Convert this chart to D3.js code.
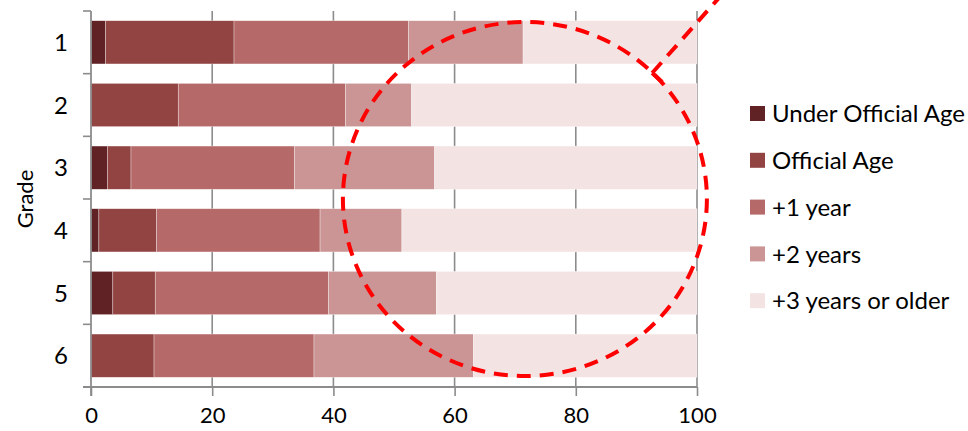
<!DOCTYPE html>
<html>
<head>
<meta charset="utf-8">
<script src="https://cdn.jsdelivr.net/npm/d3@7"></script>
<style>
  html, body { margin: 0; padding: 0; background: #fff; }
  svg { display: block; }
  text { font-family: "Lato", "Open Sans", sans-serif; fill: #000; }
</style>
</head>
<body>
<svg id="chart" width="968" height="431"></svg>
<script>
// Grades shown on the vertical axis
const grades = ["1", "2", "3", "4", "5", "6"];

// Age groups, drawn left to right within each bar
const ageGroups = ["Under Official Age", "Official Age", "+1 year", "+2 years", "+3 years or older"];

// Share of pupils (%) in each age group, one value per grade
const underOfficialAge = [2.4, 0.0, 2.7, 1.3, 3.6, 0.0];
const officialAge      = [21.2, 14.4, 3.9, 9.5, 7.0, 10.4];
const plusOneYear      = [28.8, 27.6, 27.0, 27.0, 28.6, 26.4];
const plusTwoYears     = [18.9, 10.9, 23.1, 13.5, 17.8, 26.3];
const plusThreeOrOlder = [28.7, 47.1, 43.3, 48.7, 43.0, 36.9];

// Value axis ticks
const xTicks = [0, 20, 40, 60, 80, 100];

const colors = ["#612226", "#924442", "#b56a69", "#cc9595", "#f3e3e3"];

const svg = d3.select("#chart");
const margin = { left: 91, right: 271, top: 11, bottom: 44 };
const W = 968, H = 431;

const x = d3.scaleLinear().domain([0, 100]).range([margin.left, W - margin.right]);
const y = d3.scaleBand().domain(grades).range([margin.top, H - margin.bottom]).paddingInner(0.31).paddingOuter(0.155);
const yBand = d3.scaleBand().domain(grades).range([margin.top, H - margin.bottom]);

const rows = grades.map((g, i) => ({
  grade: g,
  "Under Official Age": underOfficialAge[i],
  "Official Age": officialAge[i],
  "+1 year": plusOneYear[i],
  "+2 years": plusTwoYears[i],
  "+3 years or older": plusThreeOrOlder[i]
}));
const series = d3.stack().keys(ageGroups)(rows);
const color = d3.scaleOrdinal().domain(ageGroups).range(colors);

const axisColor = "#8c8c8c";

// vertical gridlines
svg.append("g")
  .selectAll("line")
  .data(xTicks.slice(1))
  .join("line")
  .attr("x1", d => x(d)).attr("x2", d => x(d))
  .attr("y1", margin.top).attr("y2", H - margin.bottom)
  .attr("stroke", axisColor).attr("stroke-width", 1.6);

// stacked bars
svg.append("g")
  .selectAll("g")
  .data(series)
  .join("g")
  .attr("fill", d => color(d.key))
  .selectAll("rect")
  .data(d => d)
  .join("rect")
  .attr("x", d => x(d[0]))
  .attr("width", d => Math.max(0, x(d[1]) - x(d[0])))
  .attr("y", d => y(d.data.grade))
  .attr("height", y.bandwidth())
  .attr("stroke", "rgba(255,255,255,0.55)")
  .attr("stroke-width", 0.6);

// x axis
const xAxis = svg.append("g")
  .attr("transform", `translate(0,${H - margin.bottom})`)
  .call(d3.axisBottom(x).tickValues(xTicks).tickSize(9).tickPadding(11).tickFormat(d3.format("d")));
xAxis.select(".domain").attr("stroke", axisColor).attr("stroke-width", 1.8)
  .attr("d", `M${x(0) - 8},0H${x(100)}`);
xAxis.selectAll(".tick line").attr("stroke", axisColor).attr("stroke-width", 1.6);
xAxis.selectAll(".tick text").attr("font-size", 22).style("font-family", "Lato, sans-serif").attr("fill", "#000");

// y axis with ticks at the band boundaries
const yAxisG = svg.append("g");
yAxisG.append("line")
  .attr("x1", x(0)).attr("x2", x(0))
  .attr("y1", margin.top).attr("y2", H - margin.bottom + 9)
  .attr("stroke", axisColor).attr("stroke-width", 1.8);
yAxisG.selectAll("line.tk")
  .data(grades.concat(["end"]))
  .join("line")
  .attr("class", "tk")
  .attr("x1", x(0) - 8).attr("x2", x(0))
  .attr("y1", (d, i) => i < grades.length ? yBand(d) : yBand(grades[grades.length - 1]) + yBand.bandwidth())
  .attr("y2", (d, i) => i < grades.length ? yBand(d) : yBand(grades[grades.length - 1]) + yBand.bandwidth())
  .attr("stroke", axisColor).attr("stroke-width", 1.6);
yAxisG.selectAll("text")
  .data(grades)
  .join("text")
  .attr("x", 61)
  .attr("y", d => yBand(d) + yBand.bandwidth() / 2)
  .attr("dy", "0.36em")
  .attr("text-anchor", "middle")
  .attr("font-size", 24)
  .text(d => d);

// y axis title
svg.append("text")
  .attr("transform", `translate(33,${(margin.top + H - margin.bottom) / 2}) rotate(-90)`)
  .attr("text-anchor", "middle")
  .attr("font-size", 22)
  .text("Grade");

// legend
const legend = svg.append("g").attr("transform", "translate(750,106)");
const lg = legend.selectAll("g")
  .data(ageGroups)
  .join("g")
  .attr("transform", (d, i) => `translate(0,${i * 46.8})`);
lg.append("rect").attr("width", 15).attr("height", 15).attr("fill", d => color(d));
lg.append("text")
  .attr("x", 22).attr("y", 7.5).attr("dy", "0.36em")
  .attr("font-size", 24)
  .text(d => d);

// red dashed highlight around the older age groups, with a pointer line
const ann = svg.append("g").attr("fill", "none").attr("stroke", "#ff0000")
  .attr("stroke-width", 4).attr("stroke-dasharray", "14,9");
const cx = x(71.6), cy = yBand("4");
ann.append("ellipse").attr("cx", cx).attr("cy", cy).attr("rx", 182).attr("ry", 177);
const p0 = [x(103.9), 0], p1 = [x(92.6), 73];
ann.append("line").attr("x1", p0[0]).attr("y1", p0[1] - 4).attr("x2", p1[0]).attr("y2", p1[1])
  .attr("stroke-dashoffset", 3);
ann.append("line").attr("x1", p1[0]).attr("y1", p1[1]).attr("x2", p1[0] + 10).attr("y2", p1[1] + 9)
  .attr("stroke-dasharray", null);
</script>
</body>
</html>
